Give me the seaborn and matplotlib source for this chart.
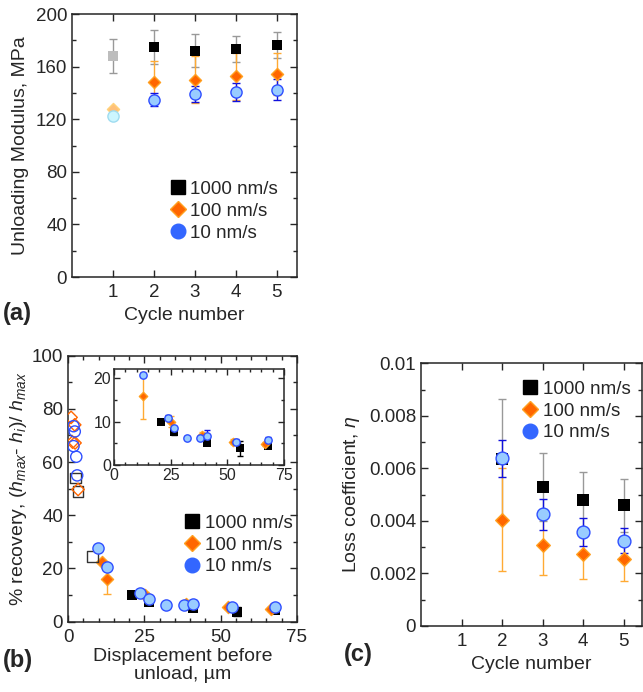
import matplotlib
matplotlib.use("Agg")
import numpy as np
import pandas as pd
import matplotlib.pyplot as plt
from matplotlib.lines import Line2D
from matplotlib.ticker import MultipleLocator, FuncFormatter
import seaborn as sns

# ---- (a) unloading modulus vs cycle ----
cycles = [1, 2, 3, 4, 5]
mod_1000 = [168, 175, 172, 173.6, 176.4]
mod_1000_err = [13, 13, 12.5, 10, 10]
mod_100 = [127.5, 148.5, 150, 152.6, 154.6]
mod_100_err = [0, 16, 18, 18, 16]
mod_10 = [122.7, 135, 139.4, 140.7, 142.5]
mod_10_err = [0, 5, 6, 7, 8]

# ---- (b) recovery vs displacement ----
disp_1000 = [20.9, 26.6, 41.0, 55.4, 67.8]
rec_1000 = [10.0, 7.5, 5.0, 3.8, 4.4]
rec_1000_err = [0.3, 0.5, 0.5, 1.8, 0.5]
disp_100 = [11.0, 12.7, 25.2, 38.6, 52.5, 66.4]
rec_100 = [22.6, 15.9, 10.0, 6.8, 5.4, 4.9]
rec_100_err = [0.5, 5.4, 1.2, 0.8, 0.5, 0.5]
disp_10 = [9.7, 12.9, 23.6, 26.6, 32.0, 38.0, 41.0, 53.6, 67.8]
rec_10 = [27.6, 20.7, 10.9, 8.4, 6.3, 6.3, 6.6, 5.4, 5.7]
rec_10_err = [0.5, 0.5, 0.5, 0.5, 0.3, 0.3, 1.5, 0.5, 0.8]

# open symbols (first cycles, small displacement)
open_disp_1000 = [2.5, 3.3, 8.0]
open_rec_1000 = [54.0, 49.0, 24.4]
open_disp_100 = [1.0, 2.2, 1.5, 2.3, 3.3]
open_rec_100 = [76.8, 74.0, 67.5, 67.2, 49.7]
open_disp_10 = [1.8, 2.2, 1.8, 2.7, 3.0]
open_rec_10 = [73.5, 71.5, 66.0, 62.0, 55.0]

# ---- (c) loss coefficient vs cycle ----
loss_cycles = [2, 3, 4, 5]
loss_1000 = [6.35e-3, 5.30e-3, 4.80e-3, 4.59e-3]
loss_1000_err = [2.3e-3, 1.3e-3, 1.06e-3, 1.0e-3]
loss_100 = [4.04e-3, 3.08e-3, 2.75e-3, 2.55e-3]
loss_100_err = [1.96e-3, 1.15e-3, 0.95e-3, 0.85e-3]
loss_10 = [6.38e-3, 4.25e-3, 3.57e-3, 3.25e-3]
loss_10_err = [0.7e-3, 0.6e-3, 0.54e-3, 0.48e-3]

labels = ["1000 nm/s", "100 nm/s", "10 nm/s"]

# colours
BLACK = "black"
ORANGE = "#ff6600"
ORANGE_EDGE = "#ffa020"
BLUE_FILL = "#99ccff"
BLUE_EDGE = "#2f4fff"
ERR_GRAY = "#999999"
ERR_ORANGE = "#ffaa33"
ERR_BLUE = "#1010dd"

sns.set_style("ticks", {"xtick.direction": "in", "ytick.direction": "in"})
plt.rcParams["font.family"] = ["Liberation Sans", "DejaVu Sans"]
plt.rcParams["mathtext.fontset"] = "custom"
plt.rcParams["mathtext.rm"] = "Liberation Sans"
plt.rcParams["mathtext.it"] = "Liberation Sans:italic"
plt.rcParams["axes.linewidth"] = 1.1

fig = plt.figure(figsize=(6.43, 6.92), dpi=100)
ax_a = fig.add_axes([0.112, 0.5997, 0.35, 0.38])
ax_b = fig.add_axes([0.1058, 0.1016, 0.356, 0.3844])
ax_c = fig.add_axes([0.6547, 0.0954, 0.3437, 0.3796])
ax_in = fig.add_axes([0.1773, 0.328, 0.2644, 0.1383])


def style_axes(ax, fs=13.5):
    ax.tick_params(which="both", direction="in", top=True, right=True, labelsize=fs, width=1)
    ax.tick_params(which="major", length=5)
    ax.tick_params(which="minor", length=3)
    ax.tick_params(axis="x", pad=5)


def errs(ax, x, y, e, c, cs=3):
    ax.errorbar(x, y, yerr=e, fmt="none", ecolor=c, elinewidth=1, capsize=cs, capthick=1, zorder=1)


def add_legend(ax, anchor):
    handles = [
        Line2D([], [], ls="", marker="s", color=BLACK, ms=10),
        Line2D([], [], ls="", marker="D", color=ORANGE, mec=ORANGE_EDGE, ms=8),
        Line2D([], [], ls="", marker="o", color="#3366ff", ms=10.5),
    ]
    ax.legend(handles, labels, loc="center right", bbox_to_anchor=anchor, frameon=False,
              fontsize=13.5, handletextpad=0.05, handlelength=1.2, labelspacing=0.25,
              borderpad=0, borderaxespad=0)


# ---------- (a) ----------
errs(ax_a, cycles, mod_1000, mod_1000_err, ERR_GRAY)
errs(ax_a, cycles, mod_100, mod_100_err, ERR_ORANGE)
errs(ax_a, cycles, mod_10, mod_10_err, ERR_BLUE)
# first cycle drawn pale
sns.scatterplot(x=cycles[:1], y=mod_1000[:1], marker="s", s=60, color="#bdbdbd", linewidth=0, ax=ax_a, zorder=3, legend=False)
sns.scatterplot(x=cycles[:1], y=mod_100[:1], marker="D", s=38, color="#ffc07a", edgecolor="#ffd27a", linewidth=1, ax=ax_a, zorder=3, legend=False)
sns.scatterplot(x=cycles[:1], y=mod_10[:1], marker="o", s=65, color="#ccf6ff", edgecolor="#9fdcf0", linewidth=1, ax=ax_a, zorder=4, legend=False)
sns.scatterplot(x=cycles[1:], y=mod_1000[1:], marker="s", s=60, color=BLACK, linewidth=0, ax=ax_a, zorder=3, legend=False)
sns.scatterplot(x=cycles[1:], y=mod_100[1:], marker="D", s=38, color=ORANGE, edgecolor=ORANGE_EDGE, linewidth=1, ax=ax_a, zorder=3, legend=False)
sns.scatterplot(x=cycles[1:], y=mod_10[1:], marker="o", s=65, color=BLUE_FILL, edgecolor=BLUE_EDGE, linewidth=1, ax=ax_a, zorder=4, legend=False)
ax_a.set_xlim(0, 5.5)
ax_a.set_ylim(0, 200)
ax_a.set_xticks(cycles)
ax_a.yaxis.set_major_locator(MultipleLocator(40))
ax_a.yaxis.set_minor_locator(MultipleLocator(20))
style_axes(ax_a)
ax_a.set_xlabel("Cycle number", fontsize=14)
ax_a.set_ylabel("Unloading Modulus, MPa", fontsize=14)
ax_a.yaxis.set_label_coords(-0.19, 0.5)
ax_a.xaxis.set_label_coords(0.5, -0.115)
add_legend(ax_a, (0.915, 0.25))

# ---------- (b) ----------
for ax, s_sq, s_d, s_o, cs in [(ax_b, 60, 38, 65, 3), (ax_in, 26, 18, 28, 2)]:
    ymax = 100 if ax is ax_b else 22
    m1 = np.array(rec_1000) <= ymax
    m2 = np.array(rec_100) <= ymax
    m3 = np.array(rec_10) <= ymax
    errs(ax, np.array(disp_1000)[m1], np.array(rec_1000)[m1], np.array(rec_1000_err)[m1], BLACK, cs)
    errs(ax, np.array(disp_100)[m2], np.array(rec_100)[m2], np.array(rec_100_err)[m2], ERR_ORANGE, cs)
    errs(ax, np.array(disp_10)[m3], np.array(rec_10)[m3], np.array(rec_10_err)[m3], ERR_BLUE, cs)
    sns.scatterplot(x=np.array(disp_1000)[m1], y=np.array(rec_1000)[m1], marker="s", s=s_sq, color=BLACK, linewidth=0, ax=ax, zorder=3, legend=False)
    sns.scatterplot(x=np.array(disp_100)[m2], y=np.array(rec_100)[m2], marker="D", s=s_d, color=ORANGE, edgecolor=ORANGE_EDGE, linewidth=1, ax=ax, zorder=3, legend=False)
    sns.scatterplot(x=np.array(disp_10)[m3], y=np.array(rec_10)[m3], marker="o", s=s_o, color=BLUE_FILL, edgecolor=BLUE_EDGE, linewidth=1, ax=ax, zorder=4, legend=False)

# open symbols on main axes
sns.scatterplot(x=open_disp_1000, y=open_rec_1000, marker="s", s=60, color="white", edgecolor="#333333", linewidth=1, ax=ax_b, zorder=3, legend=False)
ax_b.collections[-1].set_facecolor("none")
sns.scatterplot(x=open_disp_100, y=open_rec_100, marker="D", s=40, color="white", edgecolor=ORANGE, linewidth=1, ax=ax_b, zorder=3, legend=False)
ax_b.collections[-1].set_facecolor("none")
sns.scatterplot(x=open_disp_10, y=open_rec_10, marker="o", s=65, color="white", edgecolor=BLUE_EDGE, linewidth=1, ax=ax_b, zorder=3, legend=False)
ax_b.collections[-1].set_facecolor("none")

ax_b.set_xlim(0, 75)
ax_b.set_ylim(0, 100)
ax_b.xaxis.set_major_locator(MultipleLocator(25))
ax_b.xaxis.set_minor_locator(MultipleLocator(5))
ax_b.yaxis.set_major_locator(MultipleLocator(20))
ax_b.yaxis.set_minor_locator(MultipleLocator(10))
style_axes(ax_b)
ax_b.set_xlabel("Displacement before\nunload, \u00b5m", fontsize=14, linespacing=1.05)
ax_b.set_ylabel(r"% recovery, ($h_{max}$- $h_i$)/ $h_{max}$", fontsize=14)
ax_b.yaxis.set_label_coords(-0.17, 0.5)
ax_b.xaxis.set_label_coords(0.5, -0.1)
add_legend(ax_b, (0.98, 0.288))

ax_in.set_xlim(0, 75)
ax_in.set_ylim(0, 22)
ax_in.xaxis.set_major_locator(MultipleLocator(25))
ax_in.xaxis.set_minor_locator(MultipleLocator(5))
ax_in.yaxis.set_major_locator(MultipleLocator(10))
ax_in.yaxis.set_minor_locator(MultipleLocator(5))
style_axes(ax_in, fs=11.5)
ax_in.tick_params(which="major", length=4)
ax_in.tick_params(which="minor", length=2.5)
ax_in.tick_params(axis="x", pad=2)
ax_in.tick_params(axis="y", pad=2)

# ---------- (c) ----------
errs(ax_c, loss_cycles, loss_1000, loss_1000_err, ERR_GRAY)
errs(ax_c, loss_cycles, loss_100, loss_100_err, ERR_ORANGE)
errs(ax_c, loss_cycles, loss_10, loss_10_err, ERR_BLUE)
sns.scatterplot(x=loss_cycles, y=loss_1000, marker="s", s=80, color=BLACK, linewidth=0, ax=ax_c, zorder=3, legend=False)
sns.scatterplot(x=loss_cycles, y=loss_100, marker="D", s=48, color=ORANGE, edgecolor=ORANGE_EDGE, linewidth=1, ax=ax_c, zorder=3, legend=False)
sns.scatterplot(x=loss_cycles, y=loss_10, marker="o", s=85, color=BLUE_FILL, edgecolor=BLUE_EDGE, linewidth=1, ax=ax_c, zorder=4, legend=False)
ax_c.set_xlim(0, 5.45)
ax_c.set_ylim(0, 0.01)
ax_c.set_xticks(cycles)
ax_c.yaxis.set_major_locator(MultipleLocator(0.002))
ax_c.yaxis.set_minor_locator(MultipleLocator(0.001))
ax_c.yaxis.set_major_formatter(FuncFormatter(lambda v, p: f"{v:g}"))
style_axes(ax_c)
ax_c.set_xlabel("Cycle number", fontsize=14)
ax_c.set_ylabel(r"Loss coefficient, $\eta$", fontsize=14)
ax_c.yaxis.set_label_coords(-0.265, 0.5)
ax_c.xaxis.set_label_coords(0.5, -0.115)
add_legend(ax_c, (0.947, 0.818))

# panel letters
fig.text(0.004, 1 - 313 / 692, "(a)", fontsize=17, fontweight="bold", va="center")
fig.text(0.004, 1 - 660 / 692, "(b)", fontsize=17, fontweight="bold", va="center")
fig.text(0.535, 1 - 655 / 692, "(c)", fontsize=17, fontweight="bold", va="center")

fig.savefig("out.png", dpi=100)
plt.close(fig)
